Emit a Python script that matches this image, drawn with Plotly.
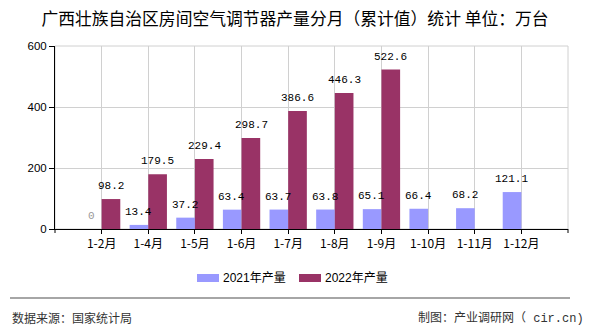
import plotly.graph_objects as go

categories = ["1-2月", "1-4月", "1-5月", "1-6月", "1-7月", "1-8月", "1-9月", "1-10月", "1-11月", "1-12月"]
values_2021 = [0, 13.4, 37.2, 63.4, 63.7, 63.8, 65.1, 66.4, 68.2, 121.1]
values_2022 = [98.2, 179.5, 229.4, 298.7, 386.6, 446.3, 522.6, None, None, None]
series_names = ["2021年产量", "2022年产量"]
colors = ["#9999FF", "#993366"]
y_ticks = [0, 200, 400, 600]

title = "广西壮族自治区房间空气调节器产量分月（累计值）统计 单位：万台"
source_left = "数据来源：国家统计局"
source_right = "制图：产业调研网（<span style=\"font-family:Liberation Mono\"> cir.cn)</span>"

W, H = 590, 330
L, R, T, B = 55, 568, 46, 229


def px(x):
    return (x - L) / (R - L)


def py(y):
    return (B - y) / (B - T)


fig = go.Figure()
for name, vals, col in zip(series_names, [values_2021, values_2022], colors):
    fig.add_trace(go.Bar(x=categories, y=vals, name=name, marker_color=col,
                         marker_line_width=0, showlegend=False))

label_font = dict(family="Liberation Mono, DejaVu Sans Mono, monospace", size=11)
for vals, shift in [(values_2021, -10), (values_2022, 9.5)]:
    for c, v in zip(categories, vals):
        if v is None:
            continue
        fig.add_annotation(x=c, y=v, text=("%g" % v), showarrow=False,
                           xshift=shift, yshift=5, yanchor="bottom",
                           font=dict(label_font, color="#999999" if v == 0 else "#000000"))

shapes = []
# top/right border
shapes.append(dict(type="rect", xref="paper", yref="paper", x0=0, x1=1, y0=0, y1=1,
                   line=dict(color="#d0d0d0", width=1), layer="below"))
# end ticks on x axis
for xx in [0, 1]:
    shapes.append(dict(type="line", xref="paper", yref="paper", x0=xx, x1=xx,
                       y0=0, y1=-4 / (B - T), line=dict(color="#000000", width=1)))
# footer line
shapes.append(dict(type="line", xref="paper", yref="paper", x0=px(10), x1=px(570),
                   y0=py(298), y1=py(298), line=dict(color="#888888", width=1.5)))
# manual legend
leg = [(197, series_names[0], colors[0]), (299, series_names[1], colors[1])]
for x0, name, col in leg:
    shapes.append(dict(type="rect", xref="paper", yref="paper", x0=px(x0), x1=px(x0 + 22),
                       y0=py(282), y1=py(274), fillcolor=col, line=dict(width=0)))
    fig.add_annotation(xref="paper", yref="paper", x=px(x0 + 24), y=py(278), text=name,
                       showarrow=False, xanchor="left", yanchor="middle",
                       font=dict(family="Liberation Sans, Noto Sans CJK SC", size=12, color="#000"))

fig.add_annotation(xref="paper", yref="paper", x=px(10), y=py(317), text=source_left,
                   showarrow=False, xanchor="left", yanchor="middle",
                   font=dict(family="Noto Sans CJK SC", size=12, color="#333333"))
fig.add_annotation(xref="paper", yref="paper", x=px(586), y=py(317), text=source_right,
                   showarrow=False, xanchor="right", yanchor="middle",
                   font=dict(family="Noto Sans CJK SC", size=12, color="#333333"))

fig.update_layout(
    width=W, height=H,
    margin=dict(l=L, r=W - R, t=T, b=H - B),
    paper_bgcolor="white", plot_bgcolor="white",
    barmode="group", bargap=0.2, bargroupgap=0,
    title=dict(text=title, x=0.5, xanchor="center", y=1 - 19 / H, yanchor="middle",
               font=dict(family="Noto Sans CJK SC", size=16.8, color="#000000")),
    shapes=shapes,
    showlegend=False,
    xaxis=dict(type="category", range=[-1, len(categories)], showgrid=True,
               gridcolor="#d0d0d0", gridwidth=1, showline=True, linecolor="#000000",
               linewidth=1, ticks="outside", ticklen=4, tickcolor="#000000",
               tickfont=dict(family="Noto Sans CJK SC", size=12, color="#000"), fixedrange=True),
    yaxis=dict(range=[0, 600], tickvals=y_ticks, showgrid=True, gridcolor="#d0d0d0",
               gridwidth=1, showline=True, linecolor="#000000", linewidth=1,
               ticks="outside", ticklen=5, tickcolor="#000000", zeroline=False,
               tickfont=dict(family="Liberation Sans", size=11.5, color="#000")),
)

fig.write_html("out.html")
